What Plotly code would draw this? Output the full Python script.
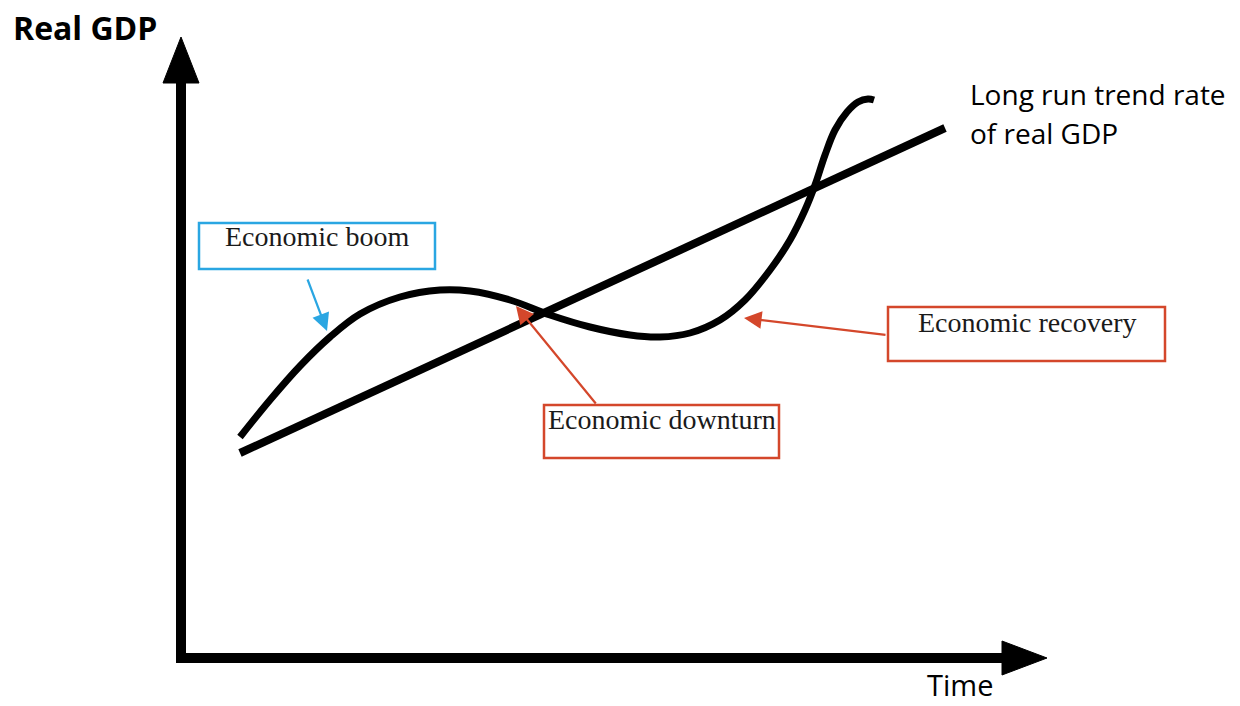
import plotly.graph_objects as go

# Diagram coordinates (x: time units, y: measured downward as in the picture)
trend_x = [240, 945]
trend_y = [453, 128]

cycle_x = [240, 270, 300, 330, 360, 400, 440, 470, 510, 550, 590, 630, 660, 690, 720, 745, 770, 790, 805, 815, 825, 835, 847, 858, 868, 874]
cycle_y = [437, 400, 366, 337, 314, 297, 290, 291, 300, 315, 327, 335, 337, 333, 320, 300, 270, 240, 210, 185, 155, 130, 112, 102, 99, 100]

y_axis_x = [181, 181]
y_axis_y = [663, 78]
y_head_x = [163, 181, 199, 163]
y_head_y = [83, 37, 83, 83]

x_axis_x = [176, 1005]
x_axis_y = [658, 658]
x_head_x = [1002, 1047, 1002, 1002]
x_head_y = [641, 658, 675, 641]

labels = ["Economic boom", "Economic downturn", "Economic recovery"]
box_x0 = [199, 544, 888]
box_x1 = [435, 779, 1165]
box_y0 = [223, 405, 307]
box_y1 = [269, 458, 361]
label_y = [236, 419, 322]
label_colors = ["#2aa6e2", "#d4472b", "#d4472b"]
arrow_from_x = [307, 597, 887]
arrow_from_y = [278, 405, 335]
arrow_to_x = [327, 516, 744]
arrow_to_y = [331, 306, 318]

fig = go.Figure()

fig.add_trace(go.Scatter(x=trend_x, y=trend_y, mode="lines",
                         line=dict(color="black", width=8), hoverinfo="skip"))
fig.add_trace(go.Scatter(x=cycle_x, y=cycle_y, mode="lines",
                         line=dict(color="black", width=7, shape="spline", smoothing=1.0),
                         hoverinfo="skip"))
fig.add_trace(go.Scatter(x=y_axis_x, y=y_axis_y, mode="lines",
                         line=dict(color="black", width=10), hoverinfo="skip"))
fig.add_trace(go.Scatter(x=y_head_x, y=y_head_y, mode="lines", fill="toself",
                         fillcolor="black", line=dict(color="black", width=1), hoverinfo="skip"))
fig.add_trace(go.Scatter(x=x_axis_x, y=x_axis_y, mode="lines",
                         line=dict(color="black", width=10), hoverinfo="skip"))
fig.add_trace(go.Scatter(x=x_head_x, y=x_head_y, mode="lines", fill="toself",
                         fillcolor="black", line=dict(color="black", width=1), hoverinfo="skip"))

shapes = []
annotations = []
for i, lab in enumerate(labels):
    shapes.append(dict(type="rect", xref="x", yref="y",
                       x0=box_x0[i], x1=box_x1[i], y0=box_y0[i], y1=box_y1[i],
                       line=dict(color=label_colors[i], width=2.5), fillcolor="white"))
    annotations.append(dict(x=(box_x0[i] + box_x1[i]) / 2, y=label_y[i],
                            xref="x", yref="y", text=lab, showarrow=False,
                            yanchor="middle", xanchor="center",
                            font=dict(family="Liberation Serif", size=28, color="#1a1a1a")))
    annotations.append(dict(x=arrow_to_x[i], y=arrow_to_y[i], ax=arrow_from_x[i], ay=arrow_from_y[i],
                            xref="x", yref="y", axref="x", ayref="y", text="",
                            showarrow=True, arrowhead=2, arrowsize=1.6, arrowwidth=2.2,
                            arrowcolor=label_colors[i]))

annotations.append(dict(x=11, y=27, xref="x", yref="y", text="<b>Real GDP</b>", showarrow=False,
                        xanchor="left", yanchor="middle",
                        font=dict(family="Open Sans", size=32, color="black")))
annotations.append(dict(x=968, y=94, xref="x", yref="y",
                        text="Long run trend rate", showarrow=False,
                        xanchor="left", yanchor="middle",
                        font=dict(family="Open Sans", size=28, color="black")))
annotations.append(dict(x=968, y=133, xref="x", yref="y",
                        text="of real GDP", showarrow=False,
                        xanchor="left", yanchor="middle",
                        font=dict(family="Open Sans", size=28, color="black")))
annotations.append(dict(x=960, y=684, xref="x", yref="y", text="Time", showarrow=False,
                        xanchor="center", yanchor="middle", borderpad=0,
                        font=dict(family="Open Sans", size=29, color="black")))

fig.update_layout(
    width=1240, height=706,
    margin=dict(l=0, r=0, t=0, b=0),
    paper_bgcolor="white", plot_bgcolor="white",
    showlegend=False,
    shapes=shapes, annotations=annotations,
    xaxis=dict(range=[0, 1240], visible=False, fixedrange=True),
    yaxis=dict(range=[706, 0], visible=False, fixedrange=True),
)

fig.write_html("out.html", config={"displayModeBar": False},
               post_script="document.body.style.margin='0';document.body.style.overflow='hidden';")
